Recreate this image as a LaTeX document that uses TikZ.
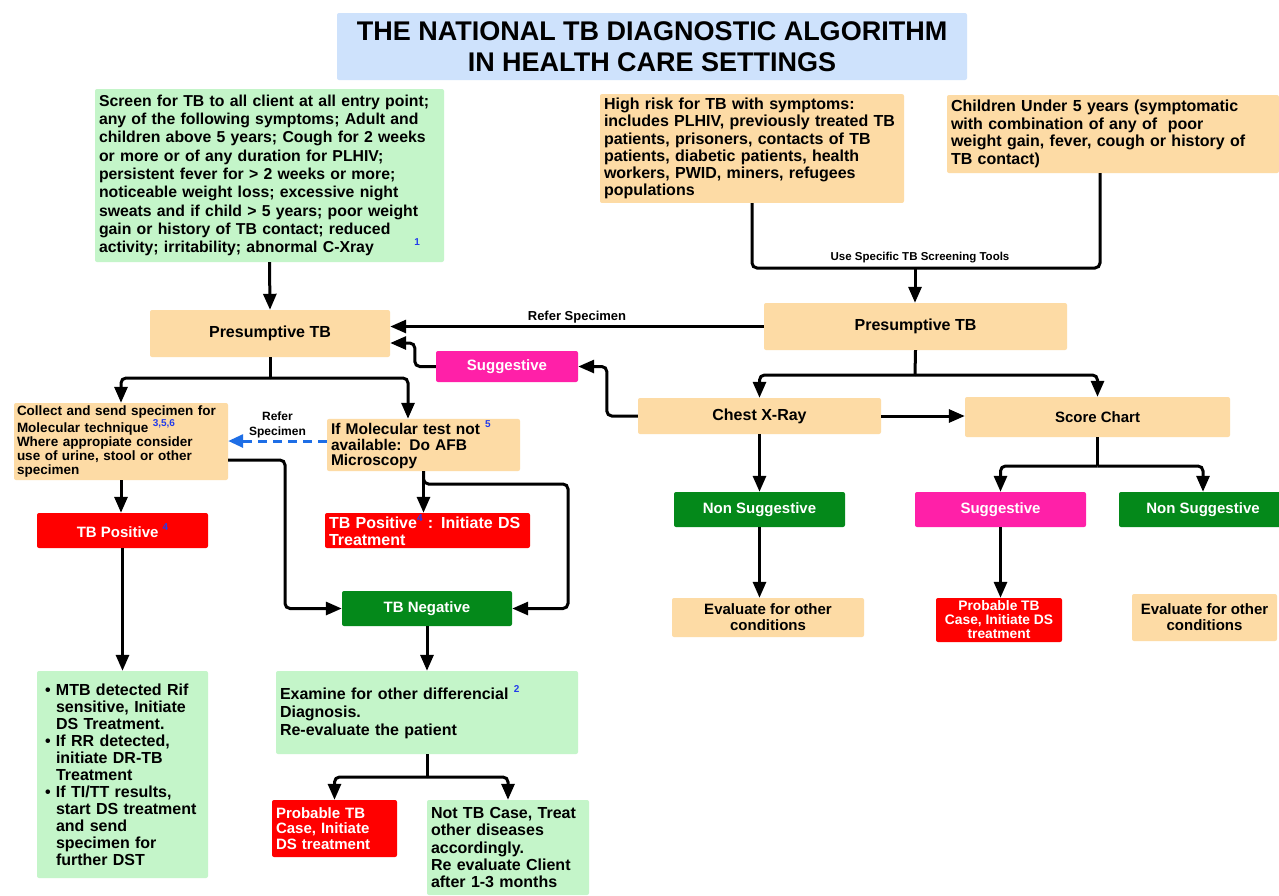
\documentclass[tikz,border=0pt]{standalone}
\usepackage{fontspec}
\setmainfont{Liberation Sans}
\usetikzlibrary{arrows.meta}

\definecolor{peach}{RGB}{253,219,165}
\definecolor{mint}{RGB}{196,245,201}
\definecolor{skyblue}{RGB}{206,226,252}
\definecolor{alertred}{RGB}{255,0,0}
\definecolor{hotpink}{RGB}{255,32,168}
\definecolor{leafgreen}{RGB}{4,137,26}
\definecolor{noteblue}{RGB}{35,60,235}
\definecolor{dashblue}{RGB}{30,110,230}

\newcommand{\fsz}[2]{\fontsize{#1}{#2}\selectfont\bfseries}
\newcommand{\fnote}[1]{\raisebox{0.45em}{\fontsize{10}{10}\selectfont\color{noteblue}#1}}
\newcommand{\bulitem}{\hspace*{4pt}\makebox[11pt][l]{\textbullet}}
\newcommand{\bulcont}{\hspace*{15pt}}

\tikzset{
	box/.style={rounded corners=2pt, inner sep=4pt, align=center},
	peachbox/.style={box, fill=peach},
	mintbox/.style={box, fill=mint},
	redbox/.style={box, fill=alertred, text=white},
	pinkbox/.style={box, fill=hotpink, text=white},
	greenbox/.style={box, fill=leafgreen, text=white},
	lbl/.style={inner sep=2pt, align=center, text=black},
	ln/.style={line width=3pt, rounded corners=5pt},
	arr/.style={ln, -{Triangle[length=16pt,width=13pt]}},
	dasharr/.style={line width=3pt, dashblue, dash pattern=on 9pt off 6pt, -{Triangle[length=15pt,width=13pt]}}
}

\begin{document}
\begin{tikzpicture}[x=1pt, y=-1pt]
		\useasboundingbox (0,0) rectangle (1279,895);
		\fill[white] (0,0) rectangle (1279,895);

		% title
		\node[box, fill=skyblue, minimum width=630pt, minimum height=67pt, font=\fsz{27}{31}] (title) at (652,46.5) {THE NATIONAL TB DIAGNOSTIC ALGORITHM\\IN HEALTH CARE SETTINGS};

		% top row
		\node[mintbox, text width=341pt, minimum height=173pt, align=left, font=\fsz{15.8}{18.3}] (screen) at (269.5,175.5) {Screen for TB to all client at all entry point;\\any of the following symptoms; Adult and\\children above 5 years; Cough for 2 weeks\\or more or of any duration for PLHIV;\\persistent fever for > 2 weeks or more;\\noticeable weight loss; excessive night\\sweats and if child > 5 years; poor weight\\gain or history of TB contact; reduced\\activity; irritability; abnormal C-Xray\hfill\fnote{1}\kern20pt};
		\node[peachbox, text width=296pt, minimum height=107pt, align=left, font=\fsz{16}{17.2}] (hirisk) at (752,148.5) {High risk for TB with symptoms:\\includes PLHIV, previously treated TB\\patients, prisoners, contacts of TB\\patients, diabetic patients, health\\workers, PWID, miners, refugees\\populations};
		\node[peachbox, text width=324pt, minimum height=78pt, align=left, font=\fsz{16}{17.5}] (children) at (1113,134) {Children Under 5 years (symptomatic\\with combination of any of\ \ poor\\weight gain, fever, cough or history of\\TB contact)};

		% presumptive
		\node[peachbox, minimum width=303pt, minimum height=47pt, font=\fsz{16}{18}] (presr) at (915.5,326.5) {Presumptive TB};
		\node[peachbox, minimum width=240pt, minimum height=47pt, font=\fsz{16}{18}] (presl) at (270,333.5) {Presumptive TB};
		\node[pinkbox, minimum width=142pt, minimum height=31pt, font=\fsz{15}{17}] (sugg1) at (507,366.5) {Suggestive};

		% right branch
		\node[peachbox, minimum width=243pt, minimum height=36pt, font=\fsz{16}{18}] (chest) at (759.5,416) {Chest X-Ray};
		\node[peachbox, minimum width=265pt, minimum height=40pt, font=\fsz{15}{17}] (score) at (1097.5,417) {Score Chart};
		\node[greenbox, minimum width=171pt, minimum height=35pt, font=\fsz{15}{17}] (nonsug1) at (759.5,509.5) {Non Suggestive};
		\node[pinkbox, minimum width=171pt, minimum height=35pt, font=\fsz{15}{17}] (sugg2) at (1000.5,509.5) {Suggestive};
		\node[greenbox, minimum width=168pt, minimum height=35pt, font=\fsz{15}{17}] (nonsug2) at (1203,509.5) {Non Suggestive};
		\node[peachbox, minimum width=192pt, minimum height=39pt, inner ysep=2pt, font=\fsz{15}{16}] (eval1) at (768,617.5) {Evaluate for other\\conditions};
		\node[redbox, minimum width=126pt, minimum height=44pt, inner ysep=1pt, font=\fsz{13.8}{14}] (prob2) at (999,620) {Probable TB\\Case, Initiate DS\\treatment};
		\node[peachbox, minimum width=145pt, minimum height=47pt, font=\fsz{15}{16}] (eval2) at (1204.5,617.5) {Evaluate for other\\conditions};

		% left branch
		\node[peachbox, text width=208pt, inner xsep=3pt, minimum height=77pt, inner ysep=2pt, align=left, font=\fsz{13.5}{14.2}] (collect) at (121,441.5) {Collect and send specimen for\\Molecular technique \fnote{3,5,6}\\Where appropiate consider\\use of urine, stool or other\\specimen};
		\node[peachbox, text width=185pt, minimum height=48pt, inner ysep=2pt, align=left, font=\fsz{15.5}{15.5}] (afb) at (423.5,445) {If Molecular test not \fnote{5}\\available: Do AFB\\Microscopy};
		\node[redbox, minimum width=171pt, minimum height=35pt, font=\fsz{15}{17}] (tbpos1) at (122.5,530.5) {TB Positive \fnote{4}};
		\node[redbox, text width=197pt, minimum height=35pt, inner ysep=1pt, align=left, font=\fsz{16}{17}] (tbpos2) at (427.5,530.5) {TB Positive\fnote{4} : Initiate DS\\Treatment};
		\node[greenbox, minimum width=170pt, minimum height=35pt, font=\fsz{15}{17}] (tbneg) at (427,608.5) {TB Negative};
		\node[mintbox, text width=163pt, minimum height=207pt, align=left, font=\fsz{16}{17}] (mtb) at (122.5,774.5) {\bulitem MTB detected Rif\\\bulcont sensitive, Initiate\\\bulcont DS Treatment.\\\bulitem If RR detected,\\\bulcont initiate DR-TB\\\bulcont Treatment\\\bulitem If TI/TT results,\\\bulcont start DS treatment\\\bulcont and send\\\bulcont specimen for\\\bulcont further DST};
		\node[mintbox, text width=294pt, minimum height=83pt, align=left, font=\fsz{16}{18}] (examine) at (427,712.5) {Examine for other differencial \fnote{2}\\Diagnosis.\\Re-evaluate the patient};
		\node[redbox, text width=117pt, minimum height=57pt, align=left, font=\fsz{15}{15.7}] (prob1) at (334.5,828.5) {Probable TB\\Case, Initiate\\DS treatment};
		\node[mintbox, text width=154pt, minimum height=95pt, align=left, font=\fsz{16}{17.3}] (nottb) at (508,847.5) {Not TB Case, Treat\\other diseases\\accordingly.\\Re evaluate Client\\after 1-3 months};

		% junction points
		\coordinate (tooljoin) at (915,268);
		\coordinate (xrayjoin) at (915,375);
		\coordinate (scorejoin) at (1097.5,466);
		\coordinate (leftjoin) at (270,378);
		\coordinate (collectturn) at (285,460);
		\coordinate (afbturn) at (568,484);
		\coordinate (examjoin) at (427,777);

		% connectors
		\draw[ln] (hirisk.south) |- (tooljoin) -| ([xshift=-13pt]children.south);
		\node[lbl, font=\fsz{11.5}{12}] (tools) at (920,258) {Use Specific TB Screening Tools};
		\draw[arr] (tooljoin) -- (tooljoin |- presr.north);
		\draw[arr] (screen.south) -- (presl.north);
		\draw[arr] (presr.west) -- (presr.west -| presl.east) node[lbl, midway, above, font=\fsz{13}{14}] (refer1) {Refer Specimen};
		\draw[arr] (sugg1.west) -- ++(-21,0) |- ([yshift=-9.5pt]presl.east);
		\draw[arr] (chest.west) -- ++(-31,0) |- (sugg1.east);
		\draw[ln] (presr.south) -- (xrayjoin);
		\draw[arr] (xrayjoin) -| (chest.north);
		\draw[arr] (xrayjoin) -| (score.north);
		\draw[arr] (chest.east) -- (chest.east -| score.west);
		\draw[arr] (chest.south) -- (nonsug1.north);
		\draw[arr] (nonsug1.south) -- (nonsug1.south |- eval1.north);
		\draw[ln] (score.south) -- (scorejoin);
		\draw[arr] (scorejoin) -| (sugg2.north);
		\draw[arr] (scorejoin) -| (nonsug2.north);
		\draw[arr] (sugg2.south) -- (sugg2.south |- prob2.north);

		\draw[ln] (presl.south) -- (leftjoin);
		\draw[arr] (leftjoin) -| (collect.north);
		\draw[arr] (leftjoin) -| ([xshift=-15.5pt]afb.north);
		\draw[dasharr] ([yshift=4pt]afb.west) -- ([yshift=4pt]afb.west -| collect.east) node[lbl, midway, above, font=\fsz{12}{15}] (refer2) {Refer\\Specimen};
		\draw[arr] (collect.south) -- (collect.south |- tbpos1.north);
		\draw[arr] (tbpos1.south) -- (mtb.north);
		\draw[arr] (collect.east |- collectturn) -- (collectturn) |- (tbneg.west);
		\draw[arr] (afb.south) -- (afb.south |- tbpos2.north);
		\draw[arr] (afb.south) |- (afbturn) |- (tbneg.east);
		\draw[arr] (tbneg.south) -- (examine.north);
		\draw[ln] (examine.south) -- (examjoin);
		\draw[arr] (examjoin) -| (prob1.north);
		\draw[arr] (examjoin) -| (nottb.north);
	\end{tikzpicture}
\end{document}
